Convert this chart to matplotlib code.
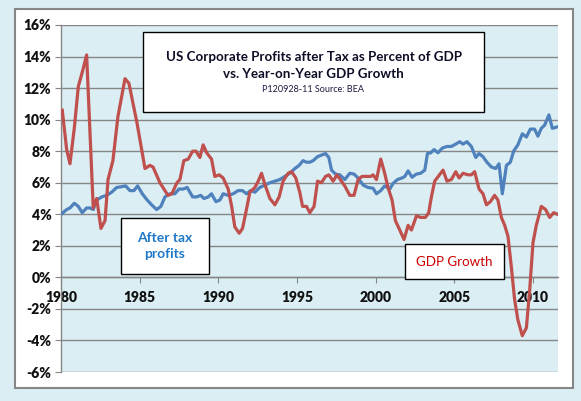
import matplotlib
matplotlib.use("Agg")
import matplotlib.pyplot as plt
from matplotlib.patches import Rectangle
from matplotlib.ticker import FuncFormatter

plt.rcParams['font.family'] = ['Lato', 'DejaVu Sans']

# ---- data ----
profit_years = [1980.08, 1980.36, 1980.57, 1980.85, 1981.10, 1981.35, 1981.63, 1981.84, 1982.05, 1982.27,
                1982.59, 1982.90, 1983.22, 1983.54, 1983.86, 1984.11, 1984.38, 1984.64, 1984.87, 1985.17,
                1985.44, 1985.76, 1986.08, 1986.35, 1986.61, 1986.92, 1987.24, 1987.50, 1987.77, 1988.02,
                1988.37, 1988.62, 1988.88, 1989.09, 1989.36, 1989.57, 1989.85, 1990.10, 1990.31, 1990.63,
                1990.95, 1991.26, 1991.54, 1991.80, 1992.05, 1992.33, 1992.64, 1992.96, 1993.28, 1993.60,
                1993.91, 1994.23, 1994.55, 1994.87, 1995.14, 1995.39, 1995.61, 1995.82, 1996.03, 1996.31,
                1996.56, 1996.82, 1997.03, 1997.20, 1997.45, 1997.73, 1998.04, 1998.36, 1998.63, 1998.89,
                1999.21, 1999.52, 1999.84, 2000.06, 2000.33, 2000.58, 2000.90, 2001.11, 2001.39, 2001.68,
                2001.86, 2002.07, 2002.32, 2002.60, 2002.87, 2003.13, 2003.30, 2003.51, 2003.72, 2003.97,
                2004.25, 2004.54, 2004.82, 2005.10, 2005.35, 2005.56, 2005.81, 2006.09, 2006.37, 2006.58,
                2006.83, 2007.08, 2007.36, 2007.64, 2007.85, 2008.06, 2008.32, 2008.57, 2008.78, 2009.05,
                2009.33, 2009.59, 2009.84, 2010.11, 2010.32, 2010.54, 2010.75, 2011.02, 2011.24, 2011.59]
profit_pct = [4.06, 4.3, 4.4, 4.7, 4.5, 4.1, 4.4, 4.4, 4.3, 4.9,
              5.1, 5.2, 5.4, 5.7, 5.75, 5.8, 5.5, 5.5, 5.8, 5.3,
              4.95, 4.6, 4.3, 4.5, 5.1, 5.3, 5.3, 5.6, 5.6, 5.7,
              5.1, 5.1, 5.2, 5.0, 5.1, 5.3, 4.8, 4.9, 5.3, 5.2,
              5.3, 5.5, 5.5, 5.3, 5.5, 5.4, 5.7, 5.85, 6.0, 6.1,
              6.2, 6.4, 6.6, 6.9, 7.1, 7.4, 7.3, 7.3, 7.4, 7.65,
              7.75, 7.85, 7.6, 6.8, 6.55, 6.5, 6.2, 6.6, 6.55, 6.3,
              5.85, 5.7, 5.65, 5.3, 5.5, 5.8, 5.6, 5.95, 6.2, 6.3,
              6.4, 6.75, 6.35, 6.55, 6.6, 6.8, 7.85, 7.9, 8.1, 7.9,
              8.2, 8.3, 8.3, 8.45, 8.6, 8.45, 8.6, 8.3, 7.6, 7.85,
              7.65, 7.3, 7.0, 6.9, 7.2, 5.3, 7.1, 7.3, 8.0, 8.4,
              9.1, 8.9, 9.4, 9.4, 8.95, 9.45, 9.65, 10.3, 9.45, 9.55]

gdp_years = [1980.08, 1980.36, 1980.57, 1980.85, 1981.10, 1981.35, 1981.63, 1982.05, 1982.27, 1982.54,
             1982.80, 1982.99, 1983.30, 1983.62, 1984.07, 1984.32, 1984.83, 1985.34, 1985.65, 1985.85,
             1986.29, 1986.80, 1987.05, 1987.37, 1987.56, 1987.81, 1988.09, 1988.37, 1988.58, 1988.83,
             1989.04, 1989.26, 1989.57, 1989.78, 1990.06, 1990.31, 1990.63, 1990.85, 1991.05, 1991.33,
             1991.54, 1991.75, 1992.01, 1992.33, 1992.54, 1992.75, 1992.96, 1993.28, 1993.60, 1993.87,
             1994.12, 1994.44, 1994.66, 1994.93, 1995.18, 1995.36, 1995.61, 1995.82, 1996.09, 1996.31,
             1996.56, 1996.82, 1997.03, 1997.30, 1997.55, 1997.83, 1998.04, 1998.36, 1998.63, 1998.89,
             1999.14, 1999.42, 1999.70, 1999.84, 2000.06, 2000.33, 2000.58, 2000.79, 2001.05, 2001.26,
             2001.54, 2001.81, 2002.07, 2002.28, 2002.60, 2002.87, 2003.17, 2003.38, 2003.55, 2003.76,
             2004.29, 2004.54, 2004.82, 2005.10, 2005.31, 2005.56, 2005.88, 2006.09, 2006.30, 2006.58,
             2006.83, 2007.05, 2007.30, 2007.57, 2007.78, 2008.00, 2008.21, 2008.42, 2008.63, 2008.84,
             2009.05, 2009.33, 2009.59, 2009.80, 2010.01, 2010.22, 2010.54, 2010.81, 2011.07, 2011.32,
             2011.58]
gdp_pct = [10.6, 8.1, 7.2, 9.5, 12.1, 13.0, 14.1, 4.4, 5.0, 3.1,
           3.6, 6.2, 7.4, 10.2, 12.6, 12.3, 9.8, 6.9, 7.1, 7.0,
           6.0, 5.2, 5.3, 6.0, 6.2, 7.4, 7.5, 8.0, 8.0, 7.6,
           8.4, 7.9, 7.5, 6.4, 6.5, 6.3, 5.6, 4.5, 3.2, 2.8,
           3.1, 4.1, 5.4, 5.7, 6.1, 6.6, 5.9, 5.0, 4.6, 5.1,
           6.1, 6.6, 6.7, 6.3, 5.4, 4.5, 4.5, 4.1, 4.5, 6.1,
           6.0, 6.4, 6.5, 6.1, 6.5, 6.1, 5.8, 5.2, 5.2, 6.2,
           6.4, 6.4, 6.4, 6.5, 6.2, 7.5, 6.6, 5.7, 4.9, 3.6,
           3.0, 2.4, 3.3, 3.0, 3.9, 3.8, 3.8, 4.1, 5.1, 6.1,
           6.8, 6.1, 6.2, 6.7, 6.3, 6.6, 6.5, 6.5, 6.7, 5.6,
           5.3, 4.6, 4.8, 5.2, 4.9, 3.8, 3.3, 2.6, 0.7, -1.4,
           -2.7, -3.7, -3.2, -0.8, 2.2, 3.3, 4.5, 4.3, 3.8, 4.1,
           4.0]

x_ticks = [1980, 1985, 1990, 1995, 2000, 2005, 2010]
y_ticks = [-6, -4, -2, 0, 2, 4, 6, 8, 10, 12, 14, 16]

title_line1 = "US Corporate Profits after Tax as Percent of GDP"
title_line2 = "vs. Year-on-Year GDP Growth"
subtitle = "P120928-11 Source: BEA"
label_profits = "After tax\nprofits"
label_gdp = "GDP Growth"

# ---- styling ----
W, H = 581, 401
BG = "#DAEEF3"
GRID = "#868686"
BLUE = "#4F81BD"
RED = "#C0504D"

fig = plt.figure(figsize=(W / 100, H / 100), dpi=100)
fig.patch.set_facecolor(BG)

def fx(px):
    return px / W

def fy(py):
    return 1 - py / H

# white chart panel (behind the axes)
panel = Rectangle((fx(15), fy(388)), fx(573) - fx(15), fy(9) - fy(388),
                  transform=fig.transFigure, facecolor="white", edgecolor=GRID,
                  linewidth=1.5, zorder=-5)
fig.patches.append(panel)

ax = fig.add_axes([fx(61), fy(372), fx(558) - fx(61), fy(25) - fy(372)])
ax.set_zorder(1)
ax.set_facecolor(BG)

ax.plot(profit_years, profit_pct, color=BLUE, lw=2.3, solid_joinstyle="round", zorder=3)
ax.plot(gdp_years, gdp_pct, color=RED, lw=2.3, solid_joinstyle="round", zorder=3)

ax.set_xlim(1980, 2011.6)
ax.set_ylim(-6, 16)
ax.set_yticks(y_ticks)
ax.set_xticks(x_ticks)
ax.yaxis.set_major_formatter(FuncFormatter(lambda v, p: f"{int(round(v))}%"))
ax.yaxis.grid(True, color=GRID, lw=1.0)
ax.set_axisbelow(True)

for s in ["top", "right"]:
    ax.spines[s].set_visible(False)
ax.spines["left"].set_color(GRID)
ax.spines["left"].set_linewidth(1.0)
ax.spines["bottom"].set_position(("data", 0))
ax.spines["bottom"].set_color(GRID)
ax.spines["bottom"].set_linewidth(1.0)

ax.tick_params(axis="y", direction="out", length=4, color=GRID, pad=3,
               labelsize=10)
ax.tick_params(axis="x", direction="out", length=4, color=GRID, pad=6,
               labelsize=10)
for lab in ax.get_xticklabels() + ax.get_yticklabels():
    lab.set_fontweight("heavy")
    lab.set_color("#111111")

# overlays (above axes)
tb = Rectangle((fx(143), fy(112)), fx(484) - fx(143), fy(32) - fy(112),
               transform=fig.transFigure, facecolor="white", edgecolor="black",
               linewidth=1.0, zorder=5)
fig.patches.append(tb)
fig.text(fx(313.5), fy(57), title_line1, ha="center", va="center",
         fontsize=9.6, fontweight="bold", color="#0d0d26", zorder=6)
fig.text(fx(313.5), fy(74), title_line2, ha="center", va="center",
         fontsize=9.6, fontweight="bold", color="#0d0d26", zorder=6)
fig.text(fx(313.5), fy(90), subtitle, ha="center", va="center",
         fontsize=6.5, color="#1a1a40", zorder=6)

pb = Rectangle((fx(121), fy(274)), fx(209) - fx(121), fy(218) - fy(274),
               transform=fig.transFigure, facecolor="white", edgecolor="black",
               linewidth=1.0, zorder=5)
fig.patches.append(pb)
fig.text(fx(165), fy(246), label_profits, ha="center", va="center",
         fontsize=10, fontweight="bold", color="#1F78C8", linespacing=1.5, zorder=6)

gb = Rectangle((fx(405), fy(279)), fx(504) - fx(405), fy(244) - fy(279),
               transform=fig.transFigure, facecolor="white", edgecolor="black",
               linewidth=1.0, zorder=5)
fig.patches.append(gb)
fig.text(fx(454.5), fy(262), label_gdp, ha="center", va="center",
         fontsize=9.6, color="#CC0000", zorder=6)

fig.savefig("out.png", dpi=100, facecolor=BG)
